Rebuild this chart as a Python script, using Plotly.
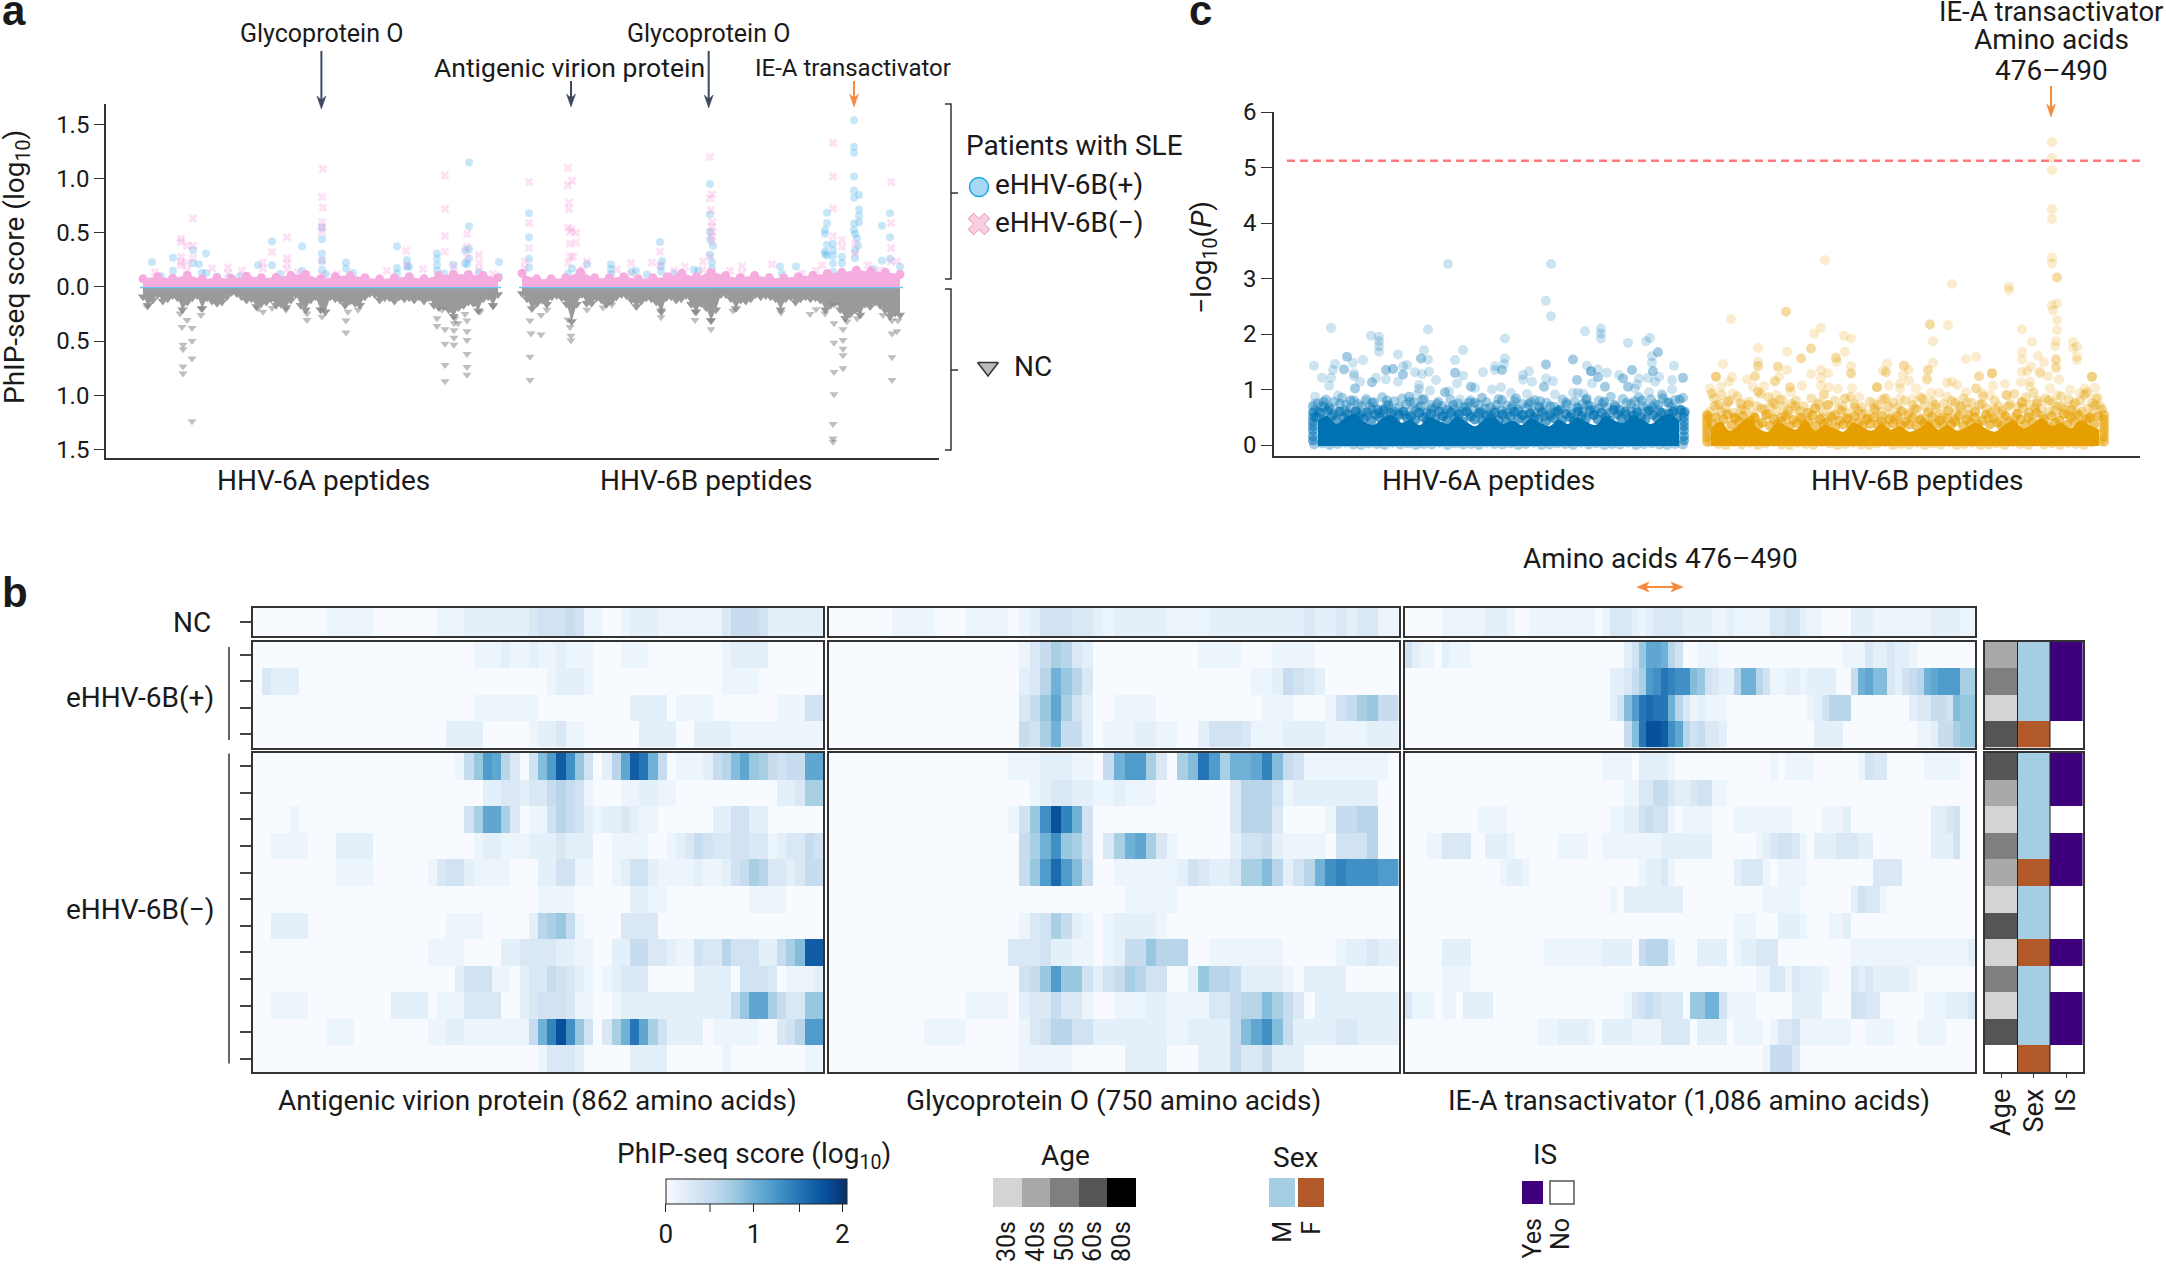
import plotly.graph_objects as go

W, H = 2166, 1264
FONT = "Roboto"
FS = 28
INK = "#1a1a1a"

# ---------- panel a: peptide rank, score ----------
a_blue_x = [329,329,329,325,325,329,327,12,33,33,21,53,53,66,59,66,62,132,132,118,162,162,140,182,182,182,182,182,206,206,213,257,257,257,267,267,269,297,297,297,297,304,313,313,339,359,359,186,77,100,90,
 714,714,714,714,714,719,714,719,719,714,719,714,715,717,718,715,715,742,750,750,750,742,687,687,685,685,687,687,685,685,693,693,693,693,693,702,702,656,640,642,570,570,570,570,573,570,572,572,572,558,554,520,522,521,521,471,471,471,447,432,428,389,389,389,389,492,496,507,534,673,733,760,760]
a_blue_y = [1.15,.56,.35,.34,.22,.26,.21,.23,.27,.15,.10,.34,.22,.31,.21,.13,.13,.42,.20,.20,.375,.15,.12,.55,.44,.31,.24,.16,.225,.17,.13,.375,.175,.125,.25,.19,.185,.31,.26,.20,.15,.125,.205,.125,.135,.23,.095,.12,.095,.10,.09,
 1.54,1.295,1.24,1.02,.89,.85,.825,.715,.655,.585,.595,.525,.49,.45,.38,.335,.265,.565,.68,.46,.26,.245,.685,.59,.525,.49,.39,.29,.325,.305,.40,.34,.29,.22,.14,.28,.22,.19,.19,.125,.95,.67,.51,.44,.38,.30,.23,.17,.125,.15,.16,.415,.24,.14,.19,.21,.165,.12,.21,.17,.125,.68,.46,.26,.18,.14,.15,.115,.125,.11,.165,.19,.125]
a_pink_x = [183,182,183,182,182,182,53,41,41,47,53,41,41,41,53,47,47,72,88,88,123,123,132,147,147,147,147,102,15,305,305,305,305,327,327,327,339,339,339,266,267,247,283,197,314,182,183,158,353,
 693,693,693,693,702,702,389,389,389,385,385,428,432,428,429,429,428,432,430,436,430,436,430,433,428,447,443,491,491,477,512,520,520,534,545,563,563,570,572,570,571,572,572,572,572,572,570,590,602,602,632,662,676,682,715,715,751,751,751,751,728,740,757]
a_pink_y = [1.09,.83,.735,.60,.55,.51,.635,.445,.415,.38,.38,.28,.23,.20,.265,.22,.155,.17,.18,.125,.225,.17,.325,.46,.265,.22,.16,.15,.135,1.03,.72,.47,.325,.49,.37,.28,.295,.22,.155,.335,.20,.15,.165,.12,.19,.245,.11,.135,.12,
 1.33,1.02,.725,.47,.435,.37,.97,.59,.36,.235,.17,1.10,.98,.94,.78,.72,.55,.53,.51,.50,.40,.41,.28,.28,.22,.235,.16,.22,.125,.16,.225,.325,.20,.15,.19,.235,.155,1.20,.855,.82,.71,.60,.555,.51,.465,.42,.28,.15,.19,.125,.21,.125,.15,.20,.40,.31,.97,.59,.36,.235,.20,.155,.235]
a_grey_x = [52,43,43,43,43,52,52,52,42,47,40,61,61,7,123,118,132,146,167,167,182,182,206,206,208,218,297,297,302,305,305,305,305,314,314,314,314,318,327,327,327,327,327,327,325,315,340,353,
 693,693,693,694,694,694,694,694,703,703,703,703,703,717,752,752,752,757,758,752,743,390,390,391,390,401,401,431,431,430,428,571,571,555,555,593,521,521,641,670,676,685,707,463,472,447,407]
a_grey_y = [-1.24,-.735,-.80,-.535,-.575,-.38,-.50,-.66,-.37,-.305,-.245,-.26,-.20,-.18,-.23,-.20,-.195,-.21,-.305,-.245,-.275,-.21,-.42,-.31,-.23,-.21,-.36,-.29,-.21,-.39,-.525,-.72,-.87,-.335,-.40,-.47,-.535,-.335,-.31,-.41,-.49,-.62,-.74,-.81,-.25,-.29,-.23,-.18,
 -1.43,-1.40,-1.265,-.99,-.785,-.515,-.335,-.165,-.75,-.63,-.57,-.49,-.39,-.29,-.86,-.65,-.43,-.41,-.31,-.31,-.26,-.86,-.645,-.43,-.31,-.44,-.26,-.495,-.45,-.37,-.30,-.39,-.31,-.305,-.23,-.22,-.28,-.21,-.235,-.25,-.205,-.245,-.32,-.19,-.165,-.21,-.21]
a_grey_env_6a = [.10,.18,.13,.08,.14,.12,.09,.11,.22,.15,.11,.09,.21,.11,.14,.16,.15,.10,.06,.07,.10,.13,.12,.19,.16,.15,.12,.18,.17,.20,.13,.08,.18,.22,.13,.10,.22,.24,.10,.12,.13,.18,.14,.16,.18,.10,.07,.08,.13,.11,.11,.14,.10,.12,.11,.13,.10,.14,.11,.18,.20,.19,.22,.28,.20,.18,.15,.16,.23,.12,.10,.18,.08]
a_grey_env_6b = [.07,.12,.21,.16,.13,.17,.10,.09,.11,.17,.33,.17,.08,.16,.16,.11,.13,.17,.14,.10,.08,.09,.13,.19,.14,.11,.12,.15,.24,.11,.10,.13,.12,.09,.17,.24,.16,.20,.32,.22,.08,.08,.12,.21,.13,.14,.12,.08,.10,.09,.10,.12,.22,.12,.10,.15,.12,.10,.12,.11,.13,.22,.18,.15,.22,.30,.26,.22,.27,.17,.19,.15,.18,.22,.28,.25,.27]
a_pink_env_6a = [.08,.10,.085,.11,.08,.09,.08,.105,.09,.095,.11,.12,.08,.10,.11,.09,.08,.09,.10,.08,.11,.12,.12,.11,.09]
a_pink_env_6b = [.13,.08,.08,.09,.14,.09,.09,.10,.08,.09,.10,.13,.10,.14,.11,.09,.11,.09,.09,.10,.11,.13,.14,.16,.15,.14,.12]

# ---------- panel c: peptide rank, -log10(P) ----------
c_a_x = [139,242,237,242,22,62,70,70,70,70,119,115,112,112,119,154,146,196,196,195,186,186,193,193,174,89,54,38,38,26,5,44,35,35,24,13,22,20,45,45,51,46,46,63,63,67,77,77,77,84,84,98,94,94,94,89,106,113,120,127,121,110,110,146,146,154,148,136,136,140,162,162,166,183,192,193,193,202,214,214,220,223,237,237,237,235,235,244,246,264,264,276,292,292,292,319,337,341,349,349,343,343,344,344,339,346,350,365,363,374,374,363,278,282,282,282,289,289,289,298,283,296,296,268,268,310,314,314,323,323,319,319,330,328,326,340,353,353,277,277,264,269,274,222,222,231,231,218,207,207,173,173,160,160,151,138,115,115,100,100,78,78,57,63,63,71,71,29,15,15,6,6,108]
c_a_y = [3.26,3.26,2.60,2.32,2.11,1.97,1.95,1.87,1.78,1.68,2.08,1.71,1.56,1.56,1.54,1.71,1.53,1.92,1.56,1.46,1.42,1.35,1.35,1.35,1.31,1.63,1.53,1.59,1.59,1.46,1.43,1.48,1.36,1.36,1.35,1.21,1.21,1.07,1.29,1.24,1.14,1.02,1.02,1.13,1.13,1.21,1.35,1.35,1.18,1.37,1.37,1.44,1.42,1.27,1.27,1.14,1.31,1.28,1.32,1.17,.98,1.08,1.01,1.30,1.30,1.25,1.11,.95,.95,.97,1.05,1.05,1.03,1.00,1.04,.81,.81,.94,1.26,1.18,1.33,1.14,1.45,1.45,1.20,1.05,1.05,1.15,.91,1.54,1.54,2.05,2.10,2.01,1.92,1.84,1.87,1.93,1.67,1.67,1.60,1.48,1.33,1.33,1.21,1.14,1.23,1.43,1.17,1.21,1.21,1.00,1.43,1.33,1.33,1.33,1.36,1.22,1.22,1.30,1.11,1.05,1.05,1.17,1.17,1.26,1.20,1.20,1.35,1.35,1.05,1.05,1.20,1.09,1.02,.95,.92,.89,.81,.81,.94,.94,.93,.77,.77,.79,.79,.92,.84,.84,.85,.85,.76,.76,.82,.66,.83,.83,.87,.87,.80,.80,.79,.63,.63,.58,.58,.89,.69,.69,.75,.87,.91]
c_b_x = [743,743,743,743,743,516,743,743,748,748,643,700,700,477,477,743,748,744,422,748,621,621,639,512,505,713,748,535,542,624,723,747,746,764,768,764,502,502,478,449,536,713,492,492,527,527,528,657,667,768,768,729,747,747,713,624,735,414,449,449,449,469,469,478,578,595,595,747,747,542,542,542,512,519,512,502,577,577,574,600,594,619,619,618,618,713,722,718,731,731,750,739,407,407,407,423,438,446,446,420,466,466,470,670,670,683,683,683,783,783,783,412,455,444,481,481,493,512,520,543,529,568,568,568,580,591,591,600,607,638,648,643,657,667,667,684,696,712,721,721,741,761,776,778,778,786,401,403,403,424,449,449,482,467,474,515,515,536,536,550,565,575,573,591,604,614,614,622,630,638,646,646,658,673,681,698,728,728,748,771,789,487,509,431,411,461,762,762,762,714,714,784,784]
c_b_y = [5.46,5.17,4.95,4.25,4.07,3.33,3.38,3.27,3.02,3.02,2.90,2.85,2.79,2.40,2.40,2.52,2.55,2.43,2.27,2.25,2.17,2.17,2.16,2.11,2.01,2.08,2.07,1.97,1.92,1.87,1.86,1.87,1.78,1.86,1.77,1.74,1.74,1.74,1.68,1.75,1.68,1.68,1.56,1.56,1.57,1.57,1.50,1.55,1.59,1.59,1.53,1.61,1.54,1.54,1.54,1.48,1.49,1.46,1.50,1.42,1.42,1.41,1.41,1.35,1.47,1.43,1.43,1.41,1.38,1.42,1.29,1.29,1.35,1.29,1.21,1.28,1.31,1.31,1.34,1.35,1.26,1.35,1.35,1.20,1.17,1.32,1.41,1.33,1.32,1.29,1.18,1.24,1.23,1.23,1.23,1.22,1.18,1.24,1.24,1.14,1.15,1.15,1.23,1.24,1.24,1.29,1.29,1.29,1.23,1.23,1.23,1.05,1.06,1.05,1.04,1.04,1.07,1.07,1.04,1.02,1.01,1.04,1.04,1.04,1.07,1.11,1.02,1.16,1.02,1.12,1.08,1.14,.95,1.02,1.02,1.07,1.10,1.13,1.14,1.05,1.02,.99,1.02,.94,.94,1.03,1.02,.93,.93,.93,.96,.96,.96,.90,.82,.91,.91,.84,.84,.86,.75,.84,.81,.84,.83,.83,.83,.94,.94,.87,.76,.76,.77,.94,.90,.90,.75,.75,.90,.94,.85,.63,.73,.76,.75,.69,.63,.63,.63,.66,.66,.69,.57]
c_a_mid = [.62,.75,.70,.82,.68,.78,.60,.85,.72,.66,.80,.74,.58,.83,.69,.77,.63,.86,.71,.65,.79,.57,.84,.73,.61,.76,.67,.81,.59,.72,.64,.78,.70,.56,.82,.66,.75,.60,.69,.80,.63,.73,.58,.77,.68,.62,.83,.55,.71,.65,.79,.60,.74,.67,.56,.81,.70,.62,.76,.58,.69,.64,.82,.72,.60,.78,.66,.74,.84,.70,.63,.80,.75,.68,.87,.72,.65,.83,.76,.61,.79,.86,.70,.66,.82,.74,.62,.84,.77,.69,.81,.64,.85]
c_a_mid2 = [.70,.60,.78,.66,.55,.74,.62,.80,.58,.70,.52,.76,.64,.56,.72,.60,.68,.54,.78,.62,.70,.57,.66,.74,.52,.63,.72,.58,.68,.55,.76,.60,.66,.53,.72,.62,.57,.70,.64,.54,.74,.60,.67,.52,.70,.58,.64,.76,.56,.68,.60,.72,.54,.66,.78,.58,.70,.62,.55,.74,.64,.80,.60,.68,.72,.57,.76,.64,.82,.60]
c_a_low = [.50,.58,.46,.62,.52,.44,.60,.49,.56,.42,.61,.53,.47,.59,.44,.55,.50,.63,.46,.57,.41,.54,.60,.48,.52,.45,.58,.50,.43,.56,.47,.61,.52,.44,.59,.49,.55,.42,.60,.51,.46,.57,.43,.53,.48,.58,.45,.55,.41,.52,.60,.47,.54,.44,.57,.50,.46,.59,.43,.53,.48,.61,.45,.56,.50,.44,.60,.52,.47,.62,.54,.46,.58,.51,.44,.63,.55,.48,.60,.45,.53,.59,.50,.46,.62,.54,.48,.58,.45,.56,.60,.49,.63]
c_a_bottom = [.01,.03,.00,.02,.04,.01,.00,.03,.02,.00,.04,.01,.03,.00,.02,.01,.04,.00,.03,.01,.02,.00,.04,.02,.01,.03,.00,.02,.04,.00,.01,.03,.02,.00,.04,.01,.03,.00,.02,.01,.04,.00,.02,.03,.01,.00,.02,.01]
c_a_edge = [.08,.16,.26,.34,.42,.50,.58]
c_a_top = [.44,.52,.38,.50,.56,.42,.36,.48,.54,.40,.46,.36,.50,.44,.38,.52,.42,.34,.46,.50,.38,.44,.36,.48,.40,.34,.46,.38,.50,.42,.36,.52,.44,.40,.54,.46,.38,.50,.56,.44]
c_b_mid = [.60,.85,.72,.90,.66,.80,.58,.88,.74,.62,.78,.55,.70,.92,.64,.86,.76,.60,.82,.68,.56,.74,.80,.62,.70,.58,.84,.66,.76,.60,.72,.54,.80,.64,.70,.58,.86,.74,.62,.68,.56,.78,.66,.72,.60,.84,.56,.76,.68,.62,.80,.58,.72,.64,.86,.70,.60,.78,.66,.56,.74,.62,.80,.58,.70,.84,.64,.76,.60,.72,.88,.66,.58,.80,.70,.62,.90,.74,.92,.68,.78,.86,.72,.94,.80,.66,.84,.60,.76,.70,.88,.64,.82,.72,.58,.80,.90,.66,.76,.84,.70]
c_b_mid2 = [.52,.70,.60,.78,.50,.64,.72,.48,.66,.56,.74,.50,.62,.70,.46,.58,.66,.50,.72,.54,.62,.46,.68,.56,.48,.64,.52,.70,.46,.60,.54,.66,.48,.58,.72,.50,.62,.46,.68,.54,.60,.74,.48,.64,.56,.70,.50,.76,.58,.66,.52,.80,.62,.70,.54,.76,.60,.48,.72,.64]
c_b_low = [.38,.50,.34,.46,.55,.36,.48,.42,.52,.33,.44,.50,.36,.40,.54,.35,.47,.38,.43,.52,.34,.45,.39,.50,.36,.42,.53,.35,.46,.38,.41,.50,.33,.44,.37,.48,.35,.52,.40,.34,.46,.38,.50,.36,.43,.34,.47,.39,.52,.35,.42,.37,.49,.34,.45,.40,.36,.51,.38,.44,.34,.48,.37,.42,.53,.35,.46,.39,.50,.36,.44,.55,.37,.48,.40,.35,.52,.43,.38,.56,.46,.36,.50,.42,.58,.38,.47,.34,.52,.40,.44,.56,.36,.49,.42,.54,.38,.46,.50,.37,.52]
c_b_bottom = [.06,.02,.00,.05,.01,.04,.00,.03,.06,.01,.00,.04,.02,.00,.05,.03,.00,.02,.04,.01,.00,.03,.05,.00,.02,.01,.04,.00,.03,.01,.05,.00,.02,.04,.00,.01,.03,.00,.05,.02,.00,.06,.01,.03,.00,.04,.02,.00,.05,.07]
c_b_edge = [.06,.14,.22,.30,.38,.46,.54]
c_b_top = [.30,.42,.26,.38,.48,.30,.24,.40,.34,.28,.44,.26,.36,.30,.24,.40,.32,.26,.38,.28,.34,.24,.30,.42,.28,.36,.26,.32,.40,.30,.24,.36,.44,.30,.38,.48,.34,.40,.30,.44,.36,.28]
c_threshold = 5.12

# ---------- panel b: heatmaps, scores x 10 ----------
avp_nc = [[0,0,0,0,0,0,0,0,1,1, 1,1,1,0,0,0,0,0,0,0, 1,1,1,2,2,2,2,2,2,2, 3,4,4,4,5,4,1,1,0,0, 1,2,2,2,1,1,1,1,1,1, 1,3,5,5,5,4,2,2,2,2, 2,2]]
avp_pos = [
[0,0,0,0,0,0,0,0,0,0, 0,0,0,0,0,0,0,0,0,0, 0,0,0,0,1,1,1,2,1,1, 2,1,1,2,1,1,1,0,0,0, 1,1,1,0,0,0,0,0,0,0, 0,1,2,2,2,2,0,0,0,0, 0,0],
[0,3,2,2,2,0,0,0,0,0, 0,0,0,0,0,0,0,0,0,0, 0,0,0,0,0,0,0,0,0,0, 0,0,1,2,2,2,1,0,0,0, 0,0,0,0,0,0,0,0,0,0, 0,1,1,1,1,0,0,0,0,0, 0,0],
[0,0,0,0,0,0,0,0,0,0, 0,0,0,0,0,0,0,0,0,0, 0,0,0,0,1,1,1,1,1,1, 1,0,0,0,0,0,0,0,0,0, 0,2,2,2,2,0,1,1,1,1, 0,0,0,0,0,0,0,1,1,1, 4,4],
[0,0,0,0,0,0,0,0,0,0, 0,0,0,0,0,0,0,0,0,0, 0,2,2,2,2,0,0,0,0,0, 1,2,2,3,1,1,0,0,0,0, 0,0,2,2,2,2,0,0,2,2, 2,2,1,1,1,1,1,1,1,1, 1,1]]
avp_neg = [
[0,0,0,0,0,0,0,0,0,0, 0,0,0,0,0,0,0,0,0,0, 0,0,1,5,8,12,11,6,3,0, 4,9,12,17,13,8,4,0,2,6, 11,17,15,10,5,0,1,1,1,2, 5,6,9,11,8,7,5,4,5,5, 11,11],
[0,0,0,0,0,0,0,0,0,0, 0,0,0,0,0,0,0,0,0,0, 0,0,0,0,0,2,2,3,3,2, 3,3,5,6,5,4,1,0,0,0, 1,1,2,2,1,1,0,0,0,0, 0,0,0,0,0,0,0,2,2,3, 7,7],
[0,0,0,0,1,0,0,0,0,0, 0,0,0,0,0,0,0,0,0,0, 0,0,0,4,7,11,11,7,3,0, 1,1,4,6,5,4,2,1,2,2, 3,2,1,1,0,0,0,0,0,0, 2,2,4,4,2,2,0,0,0,0, 0,0],
[0,0,1,1,1,1,0,0,0,2, 2,2,2,0,0,0,0,0,0,0, 0,0,0,0,1,2,2,1,1,1, 2,2,2,3,2,2,2,0,0,1, 1,1,1,0,0,1,2,3,5,4, 3,3,4,4,3,3,1,2,3,3, 5,4],
[0,0,0,0,0,0,0,0,0,1, 1,1,1,0,0,0,0,0,0,1, 3,4,4,2,1,1,1,1,0,0, 0,2,2,4,4,1,1,0,0,1, 2,4,4,2,1,1,1,1,2,1, 1,2,4,5,7,6,3,3,2,3, 5,5],
[0,0,0,0,0,0,0,0,0,0, 0,0,0,0,0,0,0,0,0,0, 0,0,0,0,0,0,0,0,0,0, 0,1,1,1,1,0,0,0,0,0, 0,2,2,1,1,0,0,0,0,0, 0,0,0,0,1,1,1,1,0,0, 0,0],
[0,0,2,2,2,2,0,0,0,0, 0,0,0,0,0,0,0,0,0,0, 0,1,1,1,1,0,0,0,0,0, 2,6,7,8,5,1,0,0,0,0, 3,3,3,3,0,0,0,0,0,0, 0,0,0,0,0,0,0,0,0,0, 0,0],
[0,0,0,0,0,0,0,0,0,0, 0,0,0,0,0,0,0,0,0,1, 1,1,1,0,0,0,0,2,2,3, 3,3,3,2,2,1,1,0,0,2, 2,5,5,3,3,2,1,1,4,3, 3,6,4,4,4,2,2,5,7,9, 17,17],
[0,0,0,0,0,0,0,0,0,0, 0,0,0,0,0,0,0,0,0,0, 0,0,2,4,4,4,1,1,0,2, 3,3,5,4,3,2,1,0,1,2, 3,3,3,0,0,0,0,0,2,2, 2,2,0,4,4,4,3,0,1,1, 1,2],
[0,0,1,1,1,1,0,0,0,0, 0,0,0,0,0,2,2,2,2,0, 1,1,1,3,3,3,3,0,0,2, 3,4,4,4,3,1,1,0,0,1, 2,2,2,2,2,2,2,2,2,2, 2,2,5,8,11,11,7,5,3,3, 8,8],
[0,0,0,0,0,0,0,0,1,1, 1,0,0,0,0,0,0,0,0,1, 1,2,2,1,1,1,1,1,1,1, 5,10,14,18,13,8,4,0,3,7, 10,15,11,7,4,2,2,2,2,0, 1,1,1,1,1,0,0,3,4,6, 12,12],
[0,0,0,0,0,0,0,0,0,0, 0,0,0,0,0,0,0,0,0,0, 0,0,0,0,0,0,0,0,0,0, 0,1,3,3,3,2,0,0,0,0, 0,2,2,2,2,0,0,0,0,0, 0,1,0,0,0,0,0,0,0,0, 1,1]]

gpo_nc = [[0,0,0,0,0,0,1,1,1,1, 0,0,0,1,1,1,1,0,1,2, 4,4,4,3,3,2,1,2,2,2, 2,2,1,1,1,1,2,2,2,2, 2,2,2,2,2,3,2,2,3,2, 3,3,1,1]]
gpo_pos = [
[0,0,0,0,0,0,0,0,0,0, 0,0,0,0,0,0,0,0,1,3, 5,7,6,3,2,0,0,0,0,0, 0,0,0,0,0,1,1,1,1,0, 0,0,1,1,1,1,0,0,0,0, 0,0,0,0],
[0,0,0,0,0,0,0,0,0,0, 0,0,0,0,0,0,0,0,2,3, 6,10,8,6,3,0,0,0,0,0, 0,0,0,0,0,0,0,0,0,0, 1,1,2,5,4,3,2,0,0,0, 0,0,0,0],
[0,0,0,0,0,0,0,0,0,0, 0,0,0,0,0,0,0,0,3,5, 8,11,7,4,2,0,0,1,1,1, 1,0,0,0,0,0,0,0,0,0, 0,1,1,1,0,0,0,1,4,5, 7,8,5,5],
[0,0,0,0,0,0,0,0,0,0, 0,0,0,0,0,0,0,0,5,4, 7,10,5,5,2,0,1,1,1,2, 2,1,1,0,0,2,4,4,4,3, 1,1,1,2,2,2,2,1,1,1, 1,2,2,2]]
gpo_neg = [
[0,0,0,0,0,0,0,0,0,0, 0,0,0,0,0,0,0,1,1,1, 2,2,2,1,1,0,5,10,12,12, 7,3,0,7,9,15,12,7,10,10, 11,14,9,5,4,1,1,1,1,1, 1,1,1,0],
[0,0,0,0,0,0,0,0,0,0, 0,0,0,0,0,0,0,0,0,1, 2,3,3,2,2,1,1,2,1,1, 1,0,0,0,0,0,0,0,3,6, 6,6,4,1,2,2,2,2,2,2, 2,2,0,0],
[0,0,0,0,0,0,0,0,0,0, 0,0,0,0,0,0,0,1,4,8, 13,18,14,10,4,0,0,0,0,0, 0,0,0,0,0,0,0,0,3,6, 6,6,3,0,0,0,0,1,5,5, 6,6,0,0],
[0,0,0,0,0,0,0,0,0,0, 0,0,0,0,0,0,0,0,5,7, 10,13,8,7,4,0,3,7,10,11, 7,3,1,0,0,0,0,0,2,4, 4,5,2,1,1,1,1,0,4,4, 4,6,0,0],
[0,0,0,0,0,0,0,0,0,0, 0,0,0,0,0,0,0,0,5,8, 12,16,12,9,5,0,0,1,1,1, 1,1,1,2,4,3,2,2,3,7, 7,9,6,2,4,6,10,13,14,13, 13,13,12,12],
[0,0,0,0,0,0,0,0,0,0, 0,0,0,0,0,0,0,0,0,0, 0,0,0,0,0,0,0,0,1,1, 1,1,1,0,0,0,0,0,0,0, 0,0,0,0,0,0,0,0,0,0, 0,0,0,0],
[0,0,0,0,0,0,0,0,0,0, 0,0,0,0,0,0,0,0,1,3, 4,7,5,2,1,0,1,2,2,2, 2,1,0,0,0,0,0,0,0,0, 0,0,0,0,0,0,0,0,0,0, 0,0,0,0],
[0,0,0,0,0,0,0,0,0,0, 0,0,0,0,0,0,0,3,3,3, 4,2,2,1,1,0,1,2,5,5, 8,6,6,6,0,0,1,1,1,1, 1,1,1,0,0,0,0,0,1,2, 2,3,2,2],
[0,0,0,0,0,0,0,0,0,0, 0,0,0,0,0,0,0,0,4,5, 8,12,8,8,4,2,4,5,7,6, 4,4,0,0,2,8,6,6,5,2, 2,2,2,1,0,2,2,2,2,0, 0,0,0,0],
[0,0,0,0,0,0,0,0,0,0, 0,0,0,1,1,1,1,0,2,3, 3,5,3,3,1,0,0,1,1,1, 2,2,1,1,1,1,3,3,5,6, 6,9,7,5,3,0,2,2,2,2, 2,2,2,2],
[0,0,0,0,0,0,0,0,0,1, 1,1,1,0,0,0,0,0,1,3, 4,6,6,4,4,2,2,2,2,2, 2,2,1,1,2,2,2,2,5,9, 11,13,9,5,2,2,2,2,3,3, 2,2,2,2],
[0,0,0,0,0,0,0,0,0,0, 0,0,0,0,0,0,0,0,1,1, 1,1,1,0,0,0,0,0,2,2, 2,2,0,0,0,2,2,2,5,3, 3,5,2,2,2,0,0,0,0,0, 0,0,0,0]]

ie_nc = [[0,0,0,0,0,1,1,1,1,1, 1,2,2,2,1,0,0,1,1,1, 1,1,1,1,1,1,0,1,3,3, 3,2,1,2,3,3,3,3,2,2, 2,2,1,1,2,1,1,1,1,1, 3,3,4,4,2,1,1,0,0,0, 0,2,2,2,1,1,1,1,1,1, 1,1,2,2,2,2,1,1]]
ie_pos = [
[4,2,1,1,0,2,1,1,1,0, 0,0,0,0,0,0,0,0,0,0, 0,0,0,0,0,0,0,0,0,0, 2,4,8,11,11,10,6,4,0,0, 1,1,1,0,0,0,0,0,0,0, 0,0,0,0,0,0,0,0,0,0, 1,1,1,3,2,2,3,2,2,1, 0,0,0,0,0,0,0,0],
[0,0,0,0,0,0,0,0,0,0, 0,0,0,0,0,0,0,0,0,0, 0,0,0,0,0,0,0,0,2,2, 3,5,7,12,13,15,14,13,13,9, 8,4,3,2,2,6,10,10,6,4, 1,1,2,2,1,2,2,2,2,0, 0,5,10,11,9,9,3,2,4,5, 6,10,11,12,12,12,7,7],
[0,0,0,0,0,0,0,0,0,0, 0,0,0,0,0,0,0,0,0,0, 0,0,0,0,0,0,0,0,2,4, 9,12,15,16,15,15,10,6,3,1, 2,1,1,1,0,0,0,0,0,0, 0,0,0,0,0,1,2,4,6,6, 6,0,0,0,0,0,0,0,0,2, 3,3,5,5,4,9,8,8],
[0,0,0,0,0,0,0,0,0,0, 0,0,0,0,0,0,0,0,0,0, 0,0,0,0,0,0,0,0,0,0, 5,9,15,18,18,17,13,11,6,4, 5,3,3,2,0,0,0,0,0,0, 0,0,0,0,0,0,2,2,2,2, 0,0,0,0,0,0,0,0,0,0, 1,1,2,5,5,7,8,8]]
ie_neg = [
[0,0,0,0,0,0,0,0,0,0, 0,0,0,0,0,0,0,0,0,0, 0,0,0,0,0,0,0,1,1,1, 1,0,2,2,2,2,1,0,0,0, 0,0,0,0,0,0,0,0,0,0, 1,0,1,1,1,1,0,0,0,0, 0,0,1,4,3,3,0,0,0,0, 0,1,1,1,1,1,0,0],
[0,0,0,0,0,0,0,0,0,0, 0,0,0,0,0,0,0,0,0,0, 0,0,0,0,0,0,0,0,0,0, 1,1,3,3,5,5,3,2,2,3, 4,4,1,1,0,0,0,0,0,0, 0,0,0,0,0,0,0,0,0,0, 0,0,0,0,0,0,0,0,0,0, 0,0,0,0,0,0,0,0],
[0,0,0,0,0,0,0,0,0,0, 1,1,1,1,0,0,0,0,0,0, 0,0,0,0,0,0,0,0,1,1, 2,2,4,5,4,4,1,0,1,1, 1,1,0,0,0,1,1,1,1,1, 1,1,1,0,0,0,0,1,1,1, 2,0,0,0,0,0,0,0,0,0, 0,0,2,2,3,4,0,0],
[0,0,0,1,1,3,3,3,3,0, 0,2,2,2,1,0,0,0,0,0, 0,1,1,1,1,0,0,1,1,1, 1,1,1,1,1,2,2,2,2,2, 2,2,0,0,0,0,0,0,1,2, 3,4,4,3,1,0,2,2,2,3, 3,3,2,2,0,0,0,0,0,0, 0,0,2,2,2,4,0,0],
[0,0,0,0,0,0,0,0,0,0, 0,0,0,1,2,2,1,0,0,0, 0,0,0,0,0,0,0,0,0,0, 0,0,1,2,2,3,1,0,0,0, 0,0,0,0,0,2,3,3,3,1, 0,1,1,1,1,0,0,0,0,0, 0,0,0,0,3,3,3,3,0,0, 0,0,0,0,0,0,0,0],
[0,0,0,0,0,0,0,0,0,0, 0,0,0,0,0,0,0,0,0,0, 0,0,0,0,0,0,0,0,1,0, 2,2,2,2,2,2,2,2,0,0, 0,0,0,0,0,0,0,0,0,1, 1,1,1,1,0,0,0,0,0,0, 0,2,4,3,3,1,0,0,0,0, 0,0,0,0,0,0,0,0],
[0,0,0,0,0,0,0,0,0,0, 0,0,0,0,0,0,0,0,0,0, 0,0,0,0,0,0,0,0,0,0, 0,0,0,0,0,0,0,0,0,0, 0,0,0,0,0,1,1,1,0,0, 0,2,2,2,1,0,0,0,1,1, 2,0,0,0,0,0,0,0,0,0, 0,0,0,0,0,0,0,0],
[0,0,0,0,0,2,2,2,2,0, 0,0,0,0,0,0,0,0,0,1, 1,1,1,1,1,1,1,2,2,2, 2,0,5,6,6,6,2,0,0,0, 2,2,2,2,0,1,2,2,3,3, 3,0,0,0,0,0,0,0,0,0, 0,1,1,1,1,1,1,1,1,1, 1,1,1,1,1,1,1,2],
[0,0,0,0,0,1,1,1,1,0, 0,0,0,0,0,0,0,0,0,0, 0,0,0,0,0,0,0,0,0,0, 0,0,0,0,0,0,0,0,0,0, 0,0,0,0,0,0,0,0,1,1, 3,3,1,3,2,2,2,1,0,0, 0,3,2,3,2,2,2,2,2,1, 0,0,0,0,0,0,0,0],
[3,1,1,1,0,1,1,0,2,2, 2,2,0,0,0,0,0,0,0,0, 0,0,0,0,0,0,0,0,0,0, 1,3,4,5,4,3,3,3,0,8, 8,10,10,4,1,1,1,1,0,0, 0,0,0,2,2,2,2,0,0,0, 0,4,4,3,3,0,0,0,0,0, 0,1,1,1,2,2,2,3],
[0,0,0,0,0,0,0,0,0,0, 0,0,0,0,0,0,0,0,1,1, 1,2,2,2,2,1,0,2,2,2, 2,1,1,1,1,3,3,3,3,0, 2,2,2,2,0,1,1,1,1,0, 1,3,3,4,1,1,1,1,1,1, 1,0,0,1,1,1,1,0,0,0, 1,1,1,1,0,0,0,0],
[0,0,0,0,0,0,0,0,0,0, 0,0,0,0,0,0,0,0,0,0, 0,0,0,0,0,0,0,0,0,0, 0,0,0,0,0,0,0,0,0,0, 0,0,0,0,0,0,0,0,0,1, 5,5,5,3,0,0,0,0,0,0, 0,0,0,0,0,0,0,0,0,0, 0,0,0,0,0,0,0,0]]

pos_age = ["40s","50s","30s","60s"]
pos_sex = ["M","M","M","F"]
pos_is = ["Yes","Yes","Yes","No"]
neg_age = ["60s","40s","30s","50s","40s","30s","60s","30s","50s","30s","60s","NA"]
neg_sex = ["M","M","M","M","F","M","M","F","M","M","M","F"]
neg_is = ["Yes","Yes","No","Yes","Yes","No","No","Yes","No","Yes","Yes","No"]

age_levels = ["30s","40s","50s","60s","80s"]
sex_levels = ["M","F"]
is_levels = ["Yes","No"]
AGE_C = ["#d4d4d4","#a9a9a9","#7f7f7f","#555555","#000000"]
SEX_C = ["#a6cee3","#b15928"]
IS_C = ["#3f007d","#ffffff"]
BLUES = ["#f7fbff","#deebf7","#c6dbef","#9ecae1","#6baed6","#4292c6","#2171b5","#08519c","#08306b"]

# ---------- helpers ----------
layout = {}
annots, shapes = [], []
n_ax = [1]
fig = go.Figure()

def axes(box, xkw, ykw):
    n_ax[0] += 1
    n = n_ax[0]
    l, t, r, b = box
    layout[f"xaxis{n}"] = dict(domain=[l/W, r/W], anchor=f"y{n}", zeroline=False, showgrid=False, **xkw)
    layout[f"yaxis{n}"] = dict(domain=[1-b/H, 1-t/H], anchor=f"x{n}", zeroline=False, showgrid=False, **ykw)
    return f"x{n}", f"y{n}"

def text(x, y, s, size=FS, anchor="center", angle=0, family=FONT):
    annots.append(dict(x=x/W, y=1-y/H, xref="paper", yref="paper", text=s, showarrow=False,
        xanchor=anchor, yanchor="middle", textangle=angle, font=dict(size=size, family=family, color=INK)))

def path(pts, color="#333", width=1.5, fill=None):
    d = "M " + " L ".join(f"{x/W},{1-y/H}" for x, y in pts)
    s = dict(type="path", xref="paper", yref="paper", line=dict(color=color, width=width))
    if fill:
        d += " Z"; s["fillcolor"] = fill
    s["path"] = d
    shapes.append(s)

def arrow(x, y0, y1, color):
    path([(x, y0), (x, y1-8)], color=color, width=2)
    path([(x-4.5, y1-13), (x, y1-9), (x+4.5, y1-13), (x, y1)], color=color, width=.5, fill=color)

def harrow(x0, x1, y, color):
    path([(x0+6, y), (x1-6, y)], color=color, width=2)
    path([(x1-12, y-5), (x1-9, y), (x1-12, y+5), (x1, y)], color=color, width=.5, fill=color)
    path([(x0+12, y-5), (x0+9, y), (x0+12, y+5), (x0, y)], color=color, width=.5, fill=color)

def spread(a, b, vals):
    n = len(vals)
    return [a + (b-a)*i/(n-1) for i in range(n)]

def discrete(colors):
    n = len(colors); out = []
    for i, c in enumerate(colors):
        out += [[i/n, c], [(i+1)/n, c]]
    return out

LINE = dict(showline=True, linecolor="#333", linewidth=2)
TICKF = dict(size=24, family=FONT, color=INK)

# ---------- panel a ----------
xa, ya = axes((106, 104, 939, 458),
    dict(range=[-34, 799], showticklabels=False, ticks="", **LINE),
    dict(range=[-1.58, 1.69], tickvals=[-1.5,-1,-.5,0,.5,1,1.5], ticktext=["1.5","1.0","0.5","0.0","0.5","1.0","1.5"],
         ticks="outside", ticklen=10, tickcolor="#333", tickfont=TICKF, showline=True, linecolor="#333", linewidth=1.5))
GREY, PINK = "#9a9a9a", "#f5ade0"
for a, b, env in [(3, 358, a_grey_env_6a), (382, 760, a_grey_env_6b)]:
    xs = spread(a, b, env); ys = [.01-v for v in env]
    fig.add_trace(go.Scatter(x=xs, y=ys, mode="lines", line=dict(color=GREY, width=0),
        fill="tozeroy", fillcolor=GREY, xaxis=xa, yaxis=ya, hoverinfo="skip"))
    fig.add_trace(go.Scatter(x=xs, y=ys, mode="markers", xaxis=xa, yaxis=ya, hoverinfo="skip",
        marker=dict(symbol="triangle-down", size=9, color=GREY, line=dict(width=0))))
fig.add_trace(go.Scatter(x=a_grey_x, y=a_grey_y, mode="markers", xaxis=xa, yaxis=ya,
    marker=dict(symbol="triangle-down", size=8, color="#808080", opacity=.5, line=dict(width=0))))
fig.add_trace(go.Scatter(x=a_blue_x, y=a_blue_y, mode="markers", xaxis=xa, yaxis=ya,
    marker=dict(symbol="circle", size=8, color="#45b0ec", opacity=.3, line=dict(width=0))))
for a, b, env in [(3, 358, a_pink_env_6a), (382, 760, a_pink_env_6b)]:
    xs = spread(a, b, env)
    fig.add_trace(go.Scatter(x=[a-3, b+3], y=[-.004, -.004], mode="lines", line=dict(color="#6fc3ef", width=1.5), xaxis=xa, yaxis=ya, hoverinfo="skip"))
    fig.add_trace(go.Scatter(x=xs, y=[v-.005 for v in env], mode="lines+markers", line=dict(color=PINK, width=0, shape="spline"),
        marker=dict(symbol="circle", size=9, color=PINK, line=dict(width=0)),
        fill="tozeroy", fillcolor=PINK, xaxis=xa, yaxis=ya, hoverinfo="skip"))
fig.add_trace(go.Scatter(x=a_pink_x, y=a_pink_y, mode="markers", xaxis=xa, yaxis=ya,
    marker=dict(symbol="x", size=8, color="#f490d4", opacity=.26, line=dict(width=0))))

text(16, 267, "PhIP-seq score (log<sub>10</sub>)", angle=-90)
text(323, 480, "HHV-6A peptides"); text(706, 480, "HHV-6B peptides")
text(321, 33, "Glycoprotein O", size=25); text(708, 33, "Glycoprotein O", size=25)
text(569, 68, "Antigenic virion protein", size=26.5); text(853, 68, "IE-A transactivator", size=24)
DARK, ORANGE = "#3b4a5e", "#f58a3c"
arrow(321.4, 51, 109, DARK); arrow(571, 81, 107, DARK); arrow(708.7, 51, 108, DARK); arrow(854, 81, 107, ORANGE)
path([(945,104),(951,104),(951,279),(945,279)]); path([(951,193),(958,193)])
path([(945,289),(951,289),(951,450),(945,450)]); path([(951,370),(958,370)])
text(964, 146, "Patients with SLE", anchor="left")
text(993, 184, "eHHV-6B(+)", anchor="left"); text(993, 222, "eHHV-6B(−)", anchor="left"); text(1012, 366, "NC", anchor="left")

# legend keys drawn on a full-page overlay axis
xk, yk = axes((0, 0, W, H), dict(range=[0, W], visible=False), dict(range=[H, 0], visible=False))
fig.add_trace(go.Scatter(x=[979], y=[187], mode="markers", xaxis=xk, yaxis=yk, marker=dict(symbol="circle", size=19, color="#a8d8f5", line=dict(color="#1da9e6", width=1.5))))
fig.add_trace(go.Scatter(x=[979], y=[224], mode="markers", xaxis=xk, yaxis=yk, marker=dict(symbol="x", size=19, color="#f9cfe2", line=dict(color="#e58ab5", width=1))))
fig.add_trace(go.Scatter(x=[988], y=[367], mode="markers", xaxis=xk, yaxis=yk, marker=dict(symbol="triangle-down", size=18, color="#bbbbbb", line=dict(color="#333", width=1.5))))

# ---------- panel c ----------
xc, yc = axes((1274, 112, 2140, 456),
    dict(range=[-35, 831], showticklabels=False, ticks="", **LINE),
    dict(range=[-.198, 6], tickvals=[0,1,2,3,4,5,6], ticks="outside", ticklen=11, tickcolor="#333", tickfont=TICKF,
         showline=True, linecolor="#333", linewidth=1.5))
def cband(a, b, top, color):
    xs = spread(a, b, top)
    fig.add_trace(go.Scatter(x=xs, y=[-.02]*len(xs), mode="lines", line=dict(width=0), xaxis=xc, yaxis=yc, hoverinfo="skip"))
    fig.add_trace(go.Scatter(x=xs, y=top, mode="lines", line=dict(width=0, shape="spline"), fill="tonexty", fillcolor=color, xaxis=xc, yaxis=yc, hoverinfo="skip"))
def cpts(xs, ys, color, op):
    fig.add_trace(go.Scatter(x=xs, y=ys, mode="markers", xaxis=xc, yaxis=yc,
        marker=dict(symbol="circle", size=10, color=color, opacity=op, line=dict(width=0))))
CB, CO = "#0072b2", "#e69f00"
cband(9, 370, c_a_top, CB); cband(402, 790, c_b_top, CO)
for a, b, arr, op in [(5, 374, c_a_mid, .33), (4, 376, c_a_mid2, .4), (7, 372, c_a_low, .65), (5, 374, c_a_bottom, .35)]:
    cpts(spread(a, b, arr), arr, CB, op)
for a, b, arr, op in [(401, 791, c_b_mid, .3), (399, 793, c_b_mid2, .38), (403, 789, c_b_low, .6), (401, 791, c_b_bottom, .35)]:
    cpts(spread(a, b, arr), arr, CO, op)
# rows of circles closing the left and right ends of each dense band
for x0, arr, col in [(4, c_a_edge, CB), (375, c_a_edge, CB), (398, c_b_edge, CO), (795, c_b_edge, CO)]:
    cpts([x0]*len(arr), arr, col, .55)
cpts(c_a_x, c_a_y, CB, .2); cpts(c_b_x, c_b_y, CO, .2)
fig.add_trace(go.Scatter(x=[-22, 831], y=[c_threshold, c_threshold], mode="lines", xaxis=xc, yaxis=yc,
    line=dict(color="#ff7a7a", width=2.5, dash="8px,5px")))
text(1203, 258, "−log<sub>10</sub>(<i>P</i>)", angle=-90)
text(1488, 480, "HHV-6A peptides"); text(1917, 480, "HHV-6B peptides")
text(2051, 11, "IE-A transactivator", size=27.5); text(2051, 40, "Amino acids"); text(2051, 71, "476–490")
arrow(2051, 86, 117, ORANGE)

# ---------- panel b ----------
ROWS = [("nc", 608, 636), ("pos", 641.5, 747.5), ("neg", 753, 1072)]
COLS = [(253, 823, avp_nc, avp_pos, avp_neg), (829, 1398.5, gpo_nc, gpo_pos, gpo_neg), (1405, 1975, ie_nc, ie_pos, ie_neg)]
for ci, (l, r, nc, pos, neg) in enumerate(COLS):
    for (name, t, b), data in zip(ROWS, (nc, pos, neg)):
        ncol = len(data[0])
        rows = [(row + [0]*ncol)[:ncol] for row in data]
        ykw = dict(range=[len(rows)-.5, -.5], showticklabels=False, mirror=True, **LINE)
        if ci == 0:
            ykw.update(tickvals=list(range(len(rows))), ticks="outside", ticklen=11, tickwidth=2, tickcolor="#444")
        else:
            ykw.update(ticks="")
        xh, yh = axes((l, t, r, b), dict(range=[-.5, ncol-.5], showticklabels=False, ticks="", mirror=True, **LINE), ykw)
        fig.add_trace(go.Heatmap(z=[[v/10 for v in row] for row in rows], coloraxis="coloraxis", xaxis=xh, yaxis=yh))

CODES = {a: i for i, a in enumerate(age_levels)}
TRACK_C = AGE_C + SEX_C + IS_C + ["#ffffff"]
CODES_S = {s: 5+i for i, s in enumerate(sex_levels)}
CODES_I = {s: 7+i for i, s in enumerate(is_levels)}
for (age, sex, isv, t, b, lab) in [(pos_age, pos_sex, pos_is, 641.5, 747.5, False), (neg_age, neg_sex, neg_is, 753, 1072, True)]:
    z = [[CODES.get(a, 9), CODES_S[s], CODES_I[i]] for a, s, i in zip(age, sex, isv)]
    xkw = dict(range=[-.5, 2.5], mirror=True, **LINE)
    if lab:
        xkw.update(tickvals=[0, 1, 2], ticktext=["Age", "Sex", "IS"], tickangle=-90, ticks="outside", ticklen=4, tickcolor="#333",
                   tickfont=dict(size=27, family=FONT, color=INK))
    else:
        xkw.update(showticklabels=False, ticks="")
    xh, yh = axes((1985, t, 2082.6, b), xkw, dict(range=[len(z)-.5, -.5], showticklabels=False, ticks="", mirror=True, **LINE))
    fig.add_trace(go.Heatmap(z=z, colorscale=discrete(TRACK_C), zmin=-.5, zmax=9.5, showscale=False, xaxis=xh, yaxis=yh))
    path([(2017.5, t), (2017.5, b)], color="#222", width=1); path([(2050, t), (2050, b)], color="#222", width=1)

text(213, 622, "NC", anchor="right"); text(216, 697, "eHHV-6B(+)", anchor="right"); text(216, 910, "eHHV-6B(−)", anchor="right")
path([(229, 647), (229, 740)]); path([(229, 753.6), (229, 1063.6)])
text(1660, 558, "Amino acids 476–490")
harrow(1637, 1683, 587, ORANGE)
text(537, 1100, "Antigenic virion protein (862 amino acids)")
text(1113, 1100, "Glycoprotein O (750 amino acids)")
text(1689, 1100, "IE-A transactivator (1,086 amino acids)")

# ---------- legends ----------
text(754, 1155, "PhIP-seq score (log<sub>10</sub>)")
text(1065, 1155, "Age"); text(1295, 1157, "Sex"); text(1545, 1154, "IS")
for levels, colors, box, gap in [(age_levels, AGE_C, (993, 1178, 1136, 1207), 0), (sex_levels, SEX_C, (1268, 1178, 1326, 1207), 3), (is_levels, IS_C, (1519, 1181, 1575, 1204), 7)]:
    xh, yh = axes(box, dict(tickvals=list(range(len(levels))), ticktext=levels, tickangle=-90, ticks="outside", ticklen=3, tickcolor="rgba(0,0,0,0)",
                            tickfont=dict(size=25, family=FONT, color=INK), range=[-.5, len(levels)-.5]),
                  dict(visible=False, range=[-.5, .5]))
    fig.add_trace(go.Heatmap(z=[list(range(len(levels)))], colorscale=discrete(colors), zmin=-.5, zmax=len(levels)-.5, showscale=False, xgap=gap, xaxis=xh, yaxis=yh))
shapes.append(dict(type="rect", xref="paper", yref="paper", x0=1550/W, x1=1574/W, y0=1-1204/H, y1=1-1181/H, line=dict(color="#555", width=1.5)))
path([(710, 1204), (710, 1212)], color="#222", width=1); path([(799.5, 1204), (799.5, 1212)], color="#222", width=1)

text(0, 10, "<b>a</b>", size=42, anchor="left", family="Liberation Sans")
text(0, 592, "<b>b</b>", size=42, anchor="left", family="Liberation Sans")
text(1187, 10, "<b>c</b>", size=42, anchor="left", family="Liberation Sans")

layout.update(width=W, height=H, margin=dict(l=0, r=0, t=0, b=0, autoexpand=False), paper_bgcolor="white", plot_bgcolor="rgba(0,0,0,0)",
    showlegend=False, annotations=annots, shapes=shapes, font=dict(family=FONT, size=FS, color=INK),
    coloraxis=dict(cmin=0, cmax=2.05, colorscale=[[i/8, c] for i, c in enumerate(BLUES)],
        colorbar=dict(orientation="h", x=665.7/W, xanchor="left", y=1-1179/H, yanchor="top", lenmode="pixels", len=181,
            thicknessmode="pixels", thickness=25, xpad=0, ypad=0, tickvals=[0, 1, 2],
            ticks="outside", ticklen=8, tickcolor="#222", tickfont=dict(size=26, family=FONT, color=INK), outlinecolor="#222", outlinewidth=1)))
fig.update_layout(**layout)
fig.write_html("out.html", config={"displayModeBar": False},
               post_script="document.body.style.margin='0';document.documentElement.style.overflow='hidden';")
